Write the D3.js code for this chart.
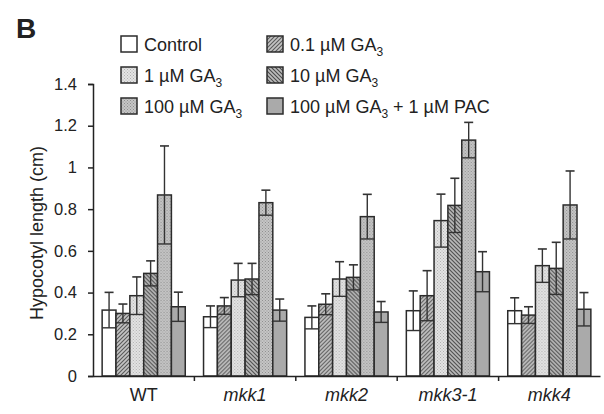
<!DOCTYPE html>
<html>
<head>
<meta charset="utf-8">
<script src="https://cdn.jsdelivr.net/npm/d3@7"></script>
<style>
  body { margin: 0; background: #fff; }
  text { font-family: "Liberation Sans", Arial, sans-serif; fill: #222; }
</style>
</head>
<body>
<div class="barplot"></div>
<script>
// data
var genotypes = ["WT", "mkk1", "mkk2", "mkk3-1", "mkk4"];
var treatments = ["control", "ga01", "ga1", "ga10", "ga100", "pac"];

var control = [0.316, 0.284, 0.281, 0.313, 0.313];
var ga01    = [0.300, 0.336, 0.344, 0.385, 0.292];
var ga1     = [0.385, 0.460, 0.465, 0.745, 0.529];
var ga10    = [0.492, 0.465, 0.473, 0.818, 0.516];
var ga100   = [0.868, 0.831, 0.764, 1.131, 0.820];
var pac     = [0.332, 0.316, 0.307, 0.500, 0.320];

var controlErr = [0.085, 0.052, 0.055, 0.095, 0.062];
var ga01Err    = [0.045, 0.040, 0.050, 0.120, 0.040];
var ga1Err     = [0.090, 0.080, 0.083, 0.127, 0.080];
var ga10Err    = [0.060, 0.075, 0.060, 0.130, 0.125];
var ga100Err   = [0.235, 0.060, 0.107, 0.085, 0.163];
var pacErr     = [0.070, 0.053, 0.050, 0.096, 0.080];

var yTicks = [0, 0.2, 0.4, 0.6, 0.8, 1, 1.2, 1.4];

var legendRows = [
  {key: "control", parts: ["Control"]},
  {key: "ga01", parts: ["0.1 \u00b5M GA", "3"]},
  {key: "ga1", parts: ["1 \u00b5M GA", "3"]},
  {key: "ga10", parts: ["10 \u00b5M GA", "3"]},
  {key: "ga100", parts: ["100 \u00b5M GA", "3"]},
  {key: "pac", parts: ["100 \u00b5M GA", "3", " + 1 \u00b5M PAC"]}
];

var means = {control: control, ga01: ga01, ga1: ga1, ga10: ga10, ga100: ga100, pac: pac};
var errs = {control: controlErr, ga01: ga01Err, ga1: ga1Err, ga10: ga10Err, ga100: ga100Err, pac: pacErr};

var rows = [];
genotypes.forEach((g, i) => {
  treatments.forEach(t => {
    rows.push({geno: g, trt: t, mean: means[t][i], err: errs[t][i]});
  });
});

// graph
var margin = {top: 84, right: 4, bottom: 38, left: 93};
var width = 604 - margin.left - margin.right;
var height = 414 - margin.top - margin.bottom;

var svg = d3.select("body").select(".barplot").append("svg")
    .attr("width", 604)
    .attr("height", 414);

var defs = svg.append("defs");

function hatch(id, bg, line, dir) {
  var p = defs.append("pattern")
    .attr("id", id)
    .attr("patternUnits", "userSpaceOnUse")
    .attr("width", 4).attr("height", 4);
  p.append("rect").attr("width", 4).attr("height", 4).attr("fill", bg);
  var d = dir > 0 ? "M-1,1 l2,-2 M0,4 l4,-4 M3,5 l2,-2" : "M-1,3 l2,2 M0,0 l4,4 M3,-1 l2,2";
  p.append("path").attr("d", d).attr("stroke", line).attr("stroke-width", 1.1);
}

function dots(id, bg, dot) {
  var p = defs.append("pattern")
    .attr("id", id)
    .attr("patternUnits", "userSpaceOnUse")
    .attr("width", 3).attr("height", 3);
  p.append("rect").attr("width", 3).attr("height", 3).attr("fill", bg);
  p.append("rect").attr("width", 1).attr("height", 1).attr("fill", dot);
  p.append("rect").attr("x", 1.5).attr("y", 1.5).attr("width", 1).attr("height", 1).attr("fill", dot);
}

hatch("p-ga01", "#c4c4c4", "#5a5a5a", 1);
dots("p-ga1", "#e4e4e4", "#b0b0b0");
hatch("p-ga10", "#bcbcbc", "#4a4a4a", -1);
dots("p-ga100", "#c6c6c6", "#8e8e8e");

var fills = {control: "#ffffff", ga01: "url(#p-ga01)", ga1: "url(#p-ga1)",
             ga10: "url(#p-ga10)", ga100: "url(#p-ga100)", pac: "#aaaaaa"};

var g = svg.append("g")
    .attr("transform", "translate(" + margin.left + "," + margin.top + ")");

// axis
var x0 = d3.scaleBand()
    .domain(genotypes)
    .range([0, width]);

var x1 = d3.scaleBand()
    .domain(treatments)
    .range([0, x0.bandwidth()])
    .paddingOuter(0.66);

var y = d3.scaleLinear()
    .domain([0, 1.4])
    .range([height, 0]);

// bars
var bars = g.selectAll(".bar")
  .data(rows)
  .enter().append("g")
    .attr("class", "bar")
    .attr("transform", d => "translate(" + (x0(d.geno) + x1(d.trt)) + ",0)");

bars.append("rect")
    .attr("x", 0)
    .attr("y", d => y(d.mean))
    .attr("width", x1.bandwidth())
    .attr("height", d => height - y(d.mean))
    .attr("fill", d => fills[d.trt])
    .attr("stroke", "#2b2b2b")
    .attr("stroke-width", 1.5);

// error bars
var cx = x1.bandwidth() / 2;
bars.append("line")
    .attr("x1", cx).attr("x2", cx)
    .attr("y1", d => y(d.mean - d.err))
    .attr("y2", d => y(d.mean + d.err))
    .attr("stroke", "#333").attr("stroke-width", 1.4);

bars.append("line")
    .attr("x1", cx - 4.5).attr("x2", cx + 4.5)
    .attr("y1", d => y(d.mean + d.err))
    .attr("y2", d => y(d.mean + d.err))
    .attr("stroke", "#333").attr("stroke-width", 1.6);

bars.append("line")
    .attr("x1", 0).attr("x2", x1.bandwidth())
    .attr("y1", d => y(d.mean - d.err))
    .attr("y2", d => y(d.mean - d.err))
    .attr("stroke", "#333").attr("stroke-width", 1.4);

// y axis
var yAxis = g.append("g")
    .attr("class", "y-axis")
    .call(d3.axisLeft(y).tickValues(yTicks).tickFormat(d => String(d))
      .tickSize(5).tickSizeOuter(5).tickPadding(11));

yAxis.select(".domain").attr("stroke", "#222").attr("stroke-width", 1.5);
yAxis.selectAll(".tick line").attr("stroke", "#222").attr("stroke-width", 1.5);
yAxis.selectAll(".tick text")
    .style("font-size", "16.5px")
    .attr("fill", "#222");

// x axis
var xAxis = g.append("g")
    .attr("class", "x-axis")
    .attr("transform", "translate(0," + height + ")")
    .call(d3.axisBottom(x0).tickSize(0).tickPadding(12));

xAxis.select(".domain").attr("stroke", "#222").attr("stroke-width", 1.5);
xAxis.selectAll(".tick text")
    .style("font-size", "18px")
    .style("font-style", d => d === "WT" ? "normal" : "italic")
    .attr("fill", "#222");

xAxis.selectAll(".sep")
  .data(genotypes.slice(1))
  .enter().append("line")
    .attr("class", "sep")
    .attr("x1", d => x0(d)).attr("x2", d => x0(d))
    .attr("y1", 0).attr("y2", 5)
    .attr("stroke", "#222").attr("stroke-width", 1.5);

// axis title
svg.append("text")
    .attr("transform", "translate(43," + (margin.top + height / 2 + 3) + ") rotate(-90)")
    .attr("text-anchor", "middle")
    .style("font-size", "18px")
    .text("Hypocotyl length (cm)");

// panel letter
svg.append("text")
    .attr("x", 16)
    .attr("y", 38)
    .style("font-size", "28px")
    .style("font-weight", "bold")
    .attr("fill", "#000")
    .text("B");

// legend
var legend = svg.selectAll(".legend")
  .data(legendRows)
  .enter().append("g")
    .attr("class", "legend")
    .attr("transform", (d, i) => "translate(" + (i % 2 ? 267 : 121) + "," + (44 + Math.floor(i / 2) * 31) + ")");

legend.append("rect")
    .attr("x", 0).attr("y", -8)
    .attr("width", 16).attr("height", 16)
    .attr("fill", d => fills[d.key])
    .attr("stroke", "#2b2b2b")
    .attr("stroke-width", 1.5);

var ltext = legend.append("text")
    .attr("x", 23)
    .attr("y", 6.5)
    .style("font-size", "18px");

ltext.each(function(d) {
  var t = d3.select(this);
  d.parts.forEach((p, k) => {
    var s = t.append("tspan").text(p);
    if (k === 1) {
      s.attr("dy", 5).style("font-size", "12px");
    } else if (k === 2) {
      s.attr("dy", -5);
    }
  });
});
</script>
</body>
</html>
